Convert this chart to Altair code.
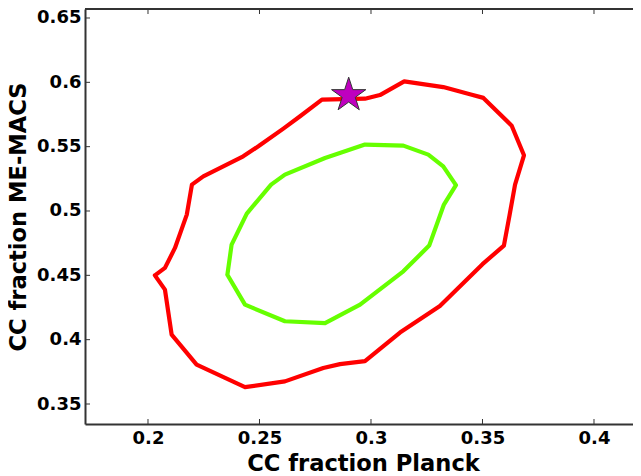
import altair as alt
import pandas as pd

# Outer (red) contour, closed
red_x = [0.2031, 0.2076, 0.2121, 0.2174, 0.2197, 0.2248, 0.2427, 0.2495, 0.2607, 0.2682,
         0.2780, 0.2973, 0.3040, 0.3149, 0.3324, 0.3452, 0.3504, 0.3631, 0.3686, 0.3646,
         0.3621, 0.3596, 0.3500, 0.3309, 0.3130, 0.2973, 0.2861, 0.2786, 0.2614, 0.2435,
         0.2218, 0.2106, 0.2076, 0.2031]
red_y = [0.4500, 0.4558, 0.4713, 0.4972, 0.5205, 0.5269, 0.5425, 0.5503, 0.5640, 0.5736,
         0.5866, 0.5873, 0.5901, 0.6008, 0.5963, 0.5904, 0.5879, 0.5663, 0.5433, 0.5205,
         0.4964, 0.4731, 0.4587, 0.4261, 0.4055, 0.3833, 0.3810, 0.3780, 0.3676, 0.3631,
         0.3806, 0.4039, 0.4389, 0.4500]

# Inner (green) contour, closed
green_x = [0.2356, 0.2375, 0.2443, 0.2552, 0.2614, 0.2794, 0.2973, 0.3145, 0.3257, 0.3324,
           0.3381, 0.3327, 0.3261, 0.3145, 0.2951, 0.2794, 0.2614, 0.2435, 0.2356]
green_y = [0.4505, 0.4739, 0.4980, 0.5205, 0.5283, 0.5412, 0.5516, 0.5508, 0.5438, 0.5347,
           0.5201, 0.5050, 0.4731, 0.4531, 0.4272, 0.4129, 0.4143, 0.4272, 0.4505]

star_x = [0.29]
star_y = [0.59]

x_ticks = [0.2, 0.25, 0.3, 0.35, 0.4]
y_ticks = [0.35, 0.4, 0.45, 0.5, 0.55, 0.6, 0.65]

W, H = 556, 415
x_dom = [0.17175, 0.42108]
y_dom = [0.33446, 0.65699]

rows = []
for i, (a, b) in enumerate(zip(red_x, red_y)):
    rows.append({"x": a, "y": b, "level": "outer", "i": i})
for i, (a, b) in enumerate(zip(green_x, green_y)):
    rows.append({"x": a, "y": b, "level": "inner", "i": i})
contours = pd.DataFrame(rows)

xs = alt.Scale(domain=x_dom, nice=False, zero=False)
ys = alt.Scale(domain=y_dom, nice=False, zero=False)

FONT = "DejaVu Sans"
FRAME = "#333333"

lines = alt.Chart(contours).mark_line(strokeWidth=4.2, strokeJoin="round", strokeCap="round").encode(
    x=alt.X("x:Q", scale=xs, axis=alt.Axis(values=x_ticks, format="~g", title="CC fraction Planck",
                                           labelBaseline="alphabetic", labelPadding=19,
                                           titleX=W / 2, titleY=46, titleBaseline="alphabetic")),
    y=alt.Y("y:Q", scale=ys, axis=alt.Axis(values=y_ticks, format="~g", title="CC fraction ME-MACS",
                                           labelPadding=4, labelBaseline="middle",
                                           titleX=-60, titleY=H / 2, titleBaseline="alphabetic",
                                           titleAngle=270, titleAlign="center")),
    color=alt.Color("level:N", scale=alt.Scale(domain=["outer", "inner"], range=["#ff0000", "#66ff00"]),
                    legend=None),
    order="i:Q",
)

star_path = ("M0,-1L0.2245,-0.309L0.9511,-0.309L0.3633,0.118L0.5878,0.809L0,0.382"
             "L-0.5878,0.809L-0.3633,0.118L-0.9511,-0.309L-0.2245,-0.309Z")
star = alt.Chart(pd.DataFrame({"x": star_x, "y": star_y})).mark_point(
    shape=star_path, size=1300, filled=True, fill="#bf00bf", stroke="#333333", strokeWidth=1, opacity=1
).encode(x=alt.X("x:Q", scale=xs), y=alt.Y("y:Q", scale=ys))

xt = pd.DataFrame({"x": x_ticks})
yt = pd.DataFrame({"y": y_ticks})
tick_b = alt.Chart(xt).mark_rule(color=FRAME, strokeWidth=1).encode(
    x=alt.X("x:Q", scale=xs), y=alt.value(H), y2=alt.value(H - 5))
tick_t = alt.Chart(xt).mark_rule(color=FRAME, strokeWidth=1).encode(
    x=alt.X("x:Q", scale=xs), y=alt.value(0), y2=alt.value(5))
tick_l = alt.Chart(yt).mark_rule(color=FRAME, strokeWidth=1).encode(
    y=alt.Y("y:Q", scale=ys), x=alt.value(0), x2=alt.value(5))
tick_r = alt.Chart(yt).mark_rule(color=FRAME, strokeWidth=1).encode(
    y=alt.Y("y:Q", scale=ys), x=alt.value(W), x2=alt.value(W - 5))
top_border = alt.Chart(xt).mark_rule(color=FRAME, strokeWidth=2).encode(
    x=alt.value(0), x2=alt.value(W), y=alt.value(0))

chart = alt.layer(lines, tick_b, tick_t, tick_l, tick_r, top_border, star).properties(
    width=W, height=H,
    autosize=alt.AutoSizeParams(type="none"),
    padding={"left": 77, "top": 1, "right": -8, "bottom": 54},
    background="white",
).configure_view(stroke=None).configure_axis(
    grid=False, ticks=False, domain=True, domainColor=FRAME, domainWidth=2,
    labelFont=FONT, labelFontWeight="bold", labelFontSize=18, labelColor="black",
    titleFont=FONT, titleFontWeight="bold", titleFontSize=22.6, titleColor="black",
)

chart.save("out.html", embed_options={"renderer": "svg", "actions": False})
